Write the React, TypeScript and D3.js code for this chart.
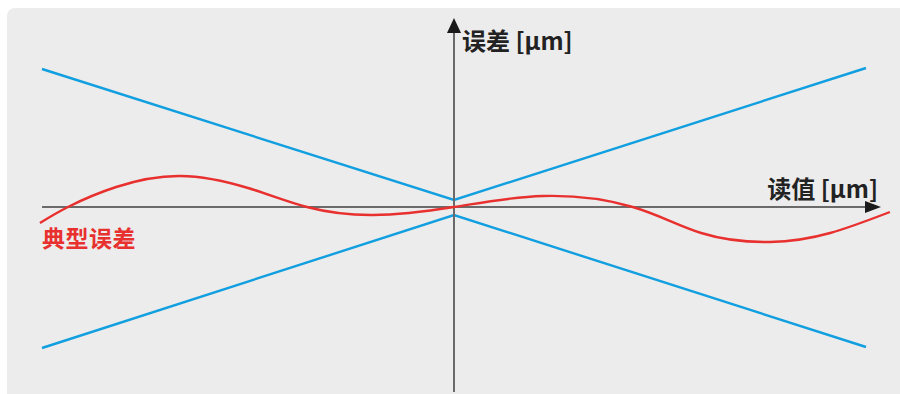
import React, { useRef, useEffect } from "react";
import * as d3 from "d3";

const WIDTH = 900;
const HEIGHT = 394;

// reading [µm] on x, error [µm] on y
const envelopeX = [-10, 0, 10];
const upperLimit = [13.8, 0.7, 13.9];
const lowerLimit = [-14.1, -0.8, -14];

const typicalX = [
  -10.05, -9.37, -8.2, -6.65, -5.0, -3.57, -1.97, 0, 2.16, 4.34, 6.0, 7.67, 9.13, 10.58,
];
const typicalErr = [
  -1.6, 0, 2.0, 3.1, 1.9, 0, -0.8, 0, 1.1, 0, -2.6, -3.5, -2.6, -0.5,
];

const xLabel = "读值 [µm]";
const yLabel = "误差 [µm]";
const seriesLabel = "典型误差";

const FONT = "'Noto Sans CJK SC', 'Noto Sans', sans-serif";

function App() {
  const svgRef = useRef<SVGSVGElement>(null);

  useEffect(() => {
    const svg = d3.select(svgRef.current);
    svg.selectAll("*").remove();

    const x = d3.scaleLinear().domain([-10, 10]).range([42, 866]);
    const y = d3.scaleLinear().domain([-20, 20]).range([407, 7]);

    // background panel
    svg
      .append("rect")
      .attr("x", 7)
      .attr("y", 8)
      .attr("width", WIDTH)
      .attr("height", HEIGHT)
      .attr("rx", 8)
      .attr("fill", "#ececec");

    const line = d3
      .line<[number, number]>()
      .x((d) => x(d[0]))
      .y((d) => y(d[1]));

    // tolerance envelope
    [upperLimit, lowerLimit].forEach((vals) => {
      svg
        .append("path")
        .datum(envelopeX.map((v, i) => [v, vals[i]] as [number, number]))
        .attr("fill", "none")
        .attr("stroke", "#119fe0")
        .attr("stroke-width", 2.4)
        .attr("d", line);
    });

    // axes
    const x0 = x(0);
    const y0 = y(0);
    svg
      .append("line")
      .attr("x1", 42)
      .attr("x2", 868)
      .attr("y1", y0)
      .attr("y2", y0)
      .attr("stroke", "#6a6a6a")
      .attr("stroke-width", 2);
    svg
      .append("line")
      .attr("x1", x0)
      .attr("x2", x0)
      .attr("y1", 392)
      .attr("y2", 30)
      .attr("stroke", "#6a6a6a")
      .attr("stroke-width", 2);

    // arrowheads
    svg
      .append("path")
      .attr("d", `M${x0},18 L${x0 - 7},33 L${x0 + 7},33 Z`)
      .attr("fill", "#1a1a1a");
    svg
      .append("path")
      .attr("d", `M881,${y0} L865,${y0 - 6} L865,${y0 + 6} Z`)
      .attr("fill", "#1a1a1a");

    // typical error curve
    svg
      .append("path")
      .datum(typicalX.map((v, i) => [v, typicalErr[i]] as [number, number]))
      .attr("fill", "none")
      .attr("stroke", "#e8302f")
      .attr("stroke-width", 2.4)
      .attr("d", line.curve(d3.curveNatural));

    // labels
    svg
      .append("text")
      .attr("x", x0 + 8)
      .attr("y", 50)
      .attr("font-family", FONT)
      .attr("font-weight", "bold")
      .attr("font-size", 24)
      .attr("fill", "#222")
      .text(yLabel);
    svg
      .append("text")
      .attr("x", 878)
      .attr("y", 198)
      .attr("text-anchor", "end")
      .attr("font-family", FONT)
      .attr("font-weight", "bold")
      .attr("font-size", 24)
      .attr("fill", "#222")
      .text(xLabel);
    svg
      .append("text")
      .attr("x", 42)
      .attr("y", 247)
      .attr("font-family", FONT)
      .attr("font-weight", "bold")
      .attr("font-size", 23)
      .attr("letter-spacing", 0.5)
      .attr("fill", "#e8302f")
      .text(seriesLabel);
  }, []);

  return (
    <svg
      ref={svgRef}
      width={WIDTH}
      height={HEIGHT}
      style={{ position: "absolute", left: 0, top: 0, background: "#fff" }}
    />
  );
}

export default App;
